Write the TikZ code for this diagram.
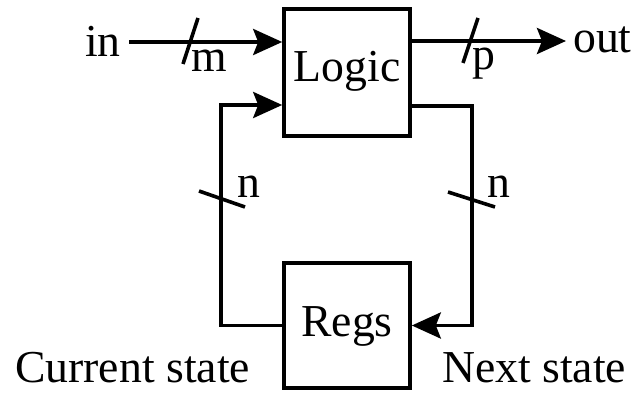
\documentclass[tikz,border=0pt]{standalone}
\usepackage{fontspec}
\setmainfont{Liberation Serif}
\usetikzlibrary{arrows.meta}
\begin{document}
\begin{tikzpicture}[x=1pt, y=-1pt,
  wire/.style={line width=3.8pt},
  sig/.style={wire, -{Stealth[length=29pt, width=26pt, inset=5pt]}},
  busmark/.style={line width=3.6pt},
  block/.style={draw, line width=3.6pt, rectangle, minimum width=126pt, inner sep=0pt,
    font=\fontsize{45.7}{55}\selectfont},
  lbl/.style={inner sep=0pt, font=\fontsize{45.7}{55}\selectfont}]
  \useasboundingbox (0,0) rectangle (633,393);

  % the two blocks
  \node[block, minimum height=127pt, text height=30pt, text depth=11pt] (logic) at (347,72.5) {Logic};
  \node[block, minimum height=125pt, text height=32pt, text depth=9pt] (regs) at (347,325.5) {Regs};

  % primary input and output
  \node[lbl, anchor=base west] (inlbl) at (85,57) {in};
  \coordinate (instart) at (129,42);
  \draw[sig] (instart) -- (instart -| logic.west);
  \node[lbl, anchor=base west] (mlbl) at (191,72) {m};
  \draw[busmark] (183,64) -- (198,18);

  \coordinate (outend) at (566,41);
  \draw[sig] (outend -| logic.east) -- (outend);
  \node[lbl, anchor=base west] (outlbl) at (573,53) {out};
  \node[lbl, anchor=base west] (plbl) at (472,70) {p};
  \draw[busmark] (463,63) -- (478,18);

  % current state back into the logic
  \coordinate (cs) at (221,105);
  \draw[sig] (regs.west) -| (cs) -- (cs -| logic.west);
  \draw[busmark] (199,191) -- (245,207);
  \node[lbl, anchor=base west] (nleft) at (237,198) {n};

  % next state into the registers
  \coordinate (ns) at (472,106);
  \draw[sig] (ns -| logic.east) -- (ns) |- (regs.east);
  \draw[busmark] (448,192) -- (495,207);
  \node[lbl, anchor=base west] (nright) at (487,198) {n};

  % state labels
  \node[lbl, anchor=base west] (curlbl) at (15,383) {Current state};
  \node[lbl, anchor=base west] (nextlbl) at (442,383) {Next state};
\end{tikzpicture}
\end{document}
